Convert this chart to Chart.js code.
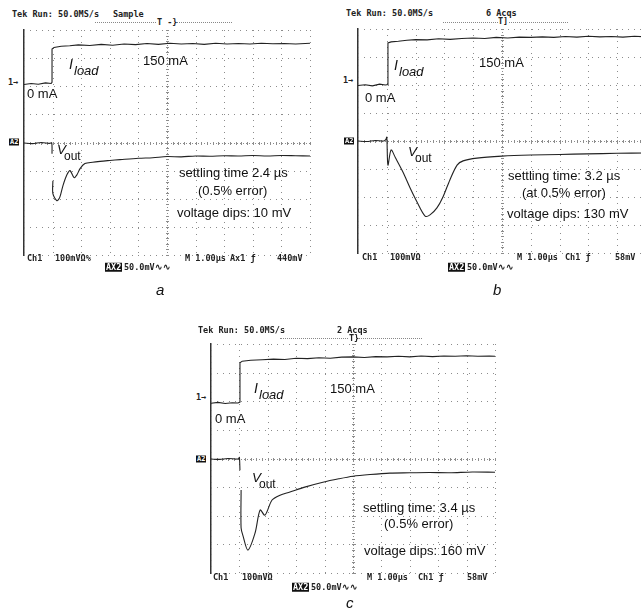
<!DOCTYPE html>
<html>
<head>
<meta charset="utf-8">
<script src="https://cdn.jsdelivr.net/npm/chart.js@4"></script>
<style>
  html, body { margin: 0; padding: 0; background: #fff; }
  body { width: 641px; height: 615px; position: relative; overflow: hidden;
         font-family: "Liberation Sans", Arial, sans-serif; color: #111; }
  .scope { position: absolute; }
  .t { position: absolute; white-space: nowrap; line-height: 1; transform: translateY(-50%); }
  .tek { font-family: "DejaVu Sans Mono", monospace; font-size: 8.5px; font-weight: bold; color: #222; }
  .note { font-size: 13px; }
  .it { font-style: italic; }
  .box { background: #111; color: #fff; padding: 0 1px; }
  .trig { position: absolute; height: 0; border-top: 1px dotted #888; }
  .lbl { font-style: italic; font-size: 15px; }
</style>
</head>
<body>

<!-- panel a -->
<div class="t tek" style="left:12px;top:14px">Tek Run: 50.0MS/s</div>
<div class="t tek" style="left:113px;top:14px">Sample</div>
<div class="trig" style="left:95px;top:22px;width:137px"></div>
<div class="t tek" style="left:157px;top:22px;background:#fff">T -}</div>
<div class="t tek" style="left:8px;top:82px">1→</div>
<div class="t tek box" style="left:9px;top:142px;font-size:7px">A2</div>
<div class="scope" style="left:23px;top:29px;width:288px;height:227px"><canvas id="scopeA"></canvas></div>
<div class="t note" style="left:27px;top:93px">0 mA</div>
<div class="t note" style="left:143px;top:60px">150 mA</div>
<div class="t it" style="left:69px;top:64px;font-size:14px">I</div>
<div class="t it note" style="left:74px;top:70px">load</div>
<div class="t it" style="left:57px;top:150px;font-size:13.5px">V</div>
<div class="t note" style="left:64px;top:156px;font-size:12px">out</div>
<div class="t note" style="left:179px;top:172px">settling time 2.4 µs</div>
<div class="t note" style="left:198px;top:190px">(0.5% error)</div>
<div class="t note" style="left:177px;top:212px">voltage dips: 10 mV</div>
<div class="t tek" style="left:27px;top:258px">Ch1</div>
<div class="t tek" style="left:55px;top:258px">100mVΩ%</div>
<div class="t tek" style="left:185px;top:258px">M 1.00µs</div>
<div class="t tek" style="left:230px;top:258px">Ax1 ƒ</div>
<div class="t tek" style="left:277px;top:258px">440mV</div>
<div class="t tek box" style="left:105px;top:267px">AX2</div>
<div class="t tek" style="left:124px;top:267px">50.0mV∿∿</div>
<div class="t lbl" style="left:156px;top:289px">a</div>

<!-- panel b -->
<div class="t tek" style="left:346px;top:13px">Tek Run: 50.0MS/s</div>
<div class="t tek" style="left:486px;top:13px">6 Acqs</div>
<div class="trig" style="left:443px;top:22px;width:125px"></div>
<div class="t tek" style="left:498px;top:21px;background:#fff">T]</div>
<div class="t tek" style="left:343px;top:80px">1→</div>
<div class="t tek box" style="left:344px;top:141px;font-size:7px">A2</div>
<div class="scope" style="left:357px;top:28px;width:290px;height:226px"><canvas id="scopeB"></canvas></div>
<div class="t note" style="left:365px;top:97px">0 mA</div>
<div class="t note" style="left:479px;top:62px">150 mA</div>
<div class="t it" style="left:394px;top:65px;font-size:14px">I</div>
<div class="t it note" style="left:399px;top:71px">load</div>
<div class="t it" style="left:408px;top:152px;font-size:13.5px">V</div>
<div class="t note" style="left:415px;top:158px;font-size:12px">out</div>
<div class="t note" style="left:508px;top:175px">settling time: 3.2 µs</div>
<div class="t note" style="left:522px;top:192px">(at 0.5% error)</div>
<div class="t note" style="left:507px;top:213px">voltage dips: 130 mV</div>
<div class="t tek" style="left:362px;top:257px">Ch1</div>
<div class="t tek" style="left:390px;top:257px">100mVΩ</div>
<div class="t tek" style="left:517px;top:257px">M 1.00µs</div>
<div class="t tek" style="left:565px;top:257px">Ch1 ƒ</div>
<div class="t tek" style="left:615px;top:257px">58mV</div>
<div class="t tek box" style="left:448px;top:267px">AX2</div>
<div class="t tek" style="left:467px;top:267px">50.0mV∿∿</div>
<div class="t lbl" style="left:493px;top:289px">b</div>

<!-- panel c -->
<div class="t tek" style="left:198px;top:330px">Tek Run: 50.0MS/s</div>
<div class="t tek" style="left:337px;top:330px">2 Acqs</div>
<div class="trig" style="left:280px;top:338px;width:142px"></div>
<div class="t tek" style="left:349px;top:338px;background:#fff">T}</div>
<div class="t tek" style="left:196px;top:397px">1→</div>
<div class="t tek box" style="left:196px;top:459px;font-size:7px">A2</div>
<div class="scope" style="left:210px;top:343px;width:286px;height:231px"><canvas id="scopeC"></canvas></div>
<div class="t note" style="left:215px;top:418px">0 mA</div>
<div class="t note" style="left:330px;top:388px">150 mA</div>
<div class="t it" style="left:254px;top:388px;font-size:14px">I</div>
<div class="t it note" style="left:259px;top:394px">load</div>
<div class="t it" style="left:252px;top:478px;font-size:13.5px">V</div>
<div class="t note" style="left:259px;top:484px;font-size:12px">out</div>
<div class="t note" style="left:363px;top:507px">settling time: 3.4 µs</div>
<div class="t note" style="left:384px;top:523px">(0.5% error)</div>
<div class="t note" style="left:364px;top:550px">voltage dips: 160 mV</div>
<div class="t tek" style="left:213px;top:577px">Ch1</div>
<div class="t tek" style="left:242px;top:577px">100mVΩ</div>
<div class="t tek" style="left:367px;top:577px">M 1.00µs</div>
<div class="t tek" style="left:418px;top:577px">Ch1 ƒ</div>
<div class="t tek" style="left:467px;top:577px">58mV</div>
<div class="t tek box" style="left:292px;top:587px">AX2</div>
<div class="t tek" style="left:311px;top:587px">50.0mV∿∿</div>
<div class="t lbl" style="left:346px;top:602px">c</div>

<script>
// time in µs (1 µs/div, 10 div), trace heights in screen divisions (0..8)
const tA_load = [0, 0.25, 0.5, 0.75, 0.95, 0.98, 0.98, 1.05, 1.3, 1.6, 1.9, 2.3, 2.7, 3.1, 3.5, 3.9, 4.3, 4.7, 5.1, 5.5, 5.9, 6.3, 6.7, 7.1, 7.5, 7.9, 8.3, 8.7, 9.1, 9.5, 10];
const iLoadA  = [6.06, 6.1, 6.07, 6.12, 6.1, 6.14, 7.32, 7.38, 7.42, 7.44, 7.47, 7.45, 7.49, 7.46, 7.5, 7.48, 7.52, 7.49, 7.53, 7.5, 7.52, 7.49, 7.53, 7.5, 7.52, 7.5, 7.53, 7.51, 7.52, 7.5, 7.53];
const tA_out  = [0, 0.3, 0.6, 0.9, 0.97, 0.98, 1.0, 1.01, 1.01, 1.15, 1.25, 1.36, 1.5, 1.61, 1.75, 1.85, 1.96, 2.13, 2.4, 2.66, 3.0, 3.36, 4.0, 4.5, 5.0, 5.5, 6.0, 6.5, 7.0, 7.5, 8.0, 8.5, 9.0, 9.5, 10];
const vOutA   = [3.98, 3.96, 4.0, 3.97, 3.99, 3.6, null, 2.64, 2.18, 1.93, 2.05, 2.46, 2.85, 3.0, 2.75, 2.85, 3.07, 3.25, 3.3, 3.33, 3.36, 3.39, 3.44, 3.46, 3.5, 3.49, 3.52, 3.51, 3.53, 3.52, 3.54, 3.52, 3.54, 3.53, 3.52];

const tB_load = [0, 0.25, 0.5, 0.75, 0.95, 1.04, 1.04, 1.15, 1.4, 1.7, 2.0, 2.4, 2.8, 3.2, 3.6, 4.0, 4.4, 4.8, 5.2, 5.6, 6.0, 6.4, 6.8, 7.2, 7.6, 8.0, 8.4, 8.8, 9.2, 9.6, 10];
const iLoadB  = [5.98, 6.01, 5.97, 6.03, 6.0, 6.02, 7.5, 7.54, 7.56, 7.6, 7.62, 7.61, 7.65, 7.63, 7.66, 7.68, 7.66, 7.7, 7.68, 7.71, 7.7, 7.72, 7.7, 7.73, 7.71, 7.74, 7.72, 7.73, 7.71, 7.74, 7.72];
const tB_out  = [0, 0.3, 0.6, 0.9, 0.97, 1.0, 1.04, 1.15, 1.3, 1.56, 1.81, 2.05, 2.33, 2.5, 2.74, 2.95, 3.19, 3.44, 3.65, 4.13, 5.0, 6.0, 7.0, 7.95, 9.0, 10];
const vOutB   = [4.0, 3.98, 4.02, 4.0, 4.06, 4.14, 3.14, 3.68, 3.4, 2.89, 2.32, 1.82, 1.32, 1.36, 1.61, 2.0, 2.61, 3.14, 3.29, 3.39, 3.46, 3.5, 3.52, 3.54, 3.56, 3.57];

const tC_load = [0, 0.25, 0.5, 0.75, 0.95, 1.02, 1.02, 1.1, 1.4, 1.8, 2.2, 2.6, 3.0, 3.4, 3.8, 4.2, 4.6, 5.0, 5.4, 5.8, 6.2, 6.6, 7.0, 7.4, 7.8, 8.2, 8.6, 9.0, 9.4, 9.8, 10];
const iLoadC  = [5.93, 5.96, 5.92, 5.95, 5.94, 5.97, 7.34, 7.4, 7.43, 7.45, 7.47, 7.46, 7.5, 7.49, 7.52, 7.5, 7.54, 7.55, 7.53, 7.56, 7.55, 7.57, 7.55, 7.58, 7.56, 7.58, 7.57, 7.59, 7.57, 7.58, 7.57];
const tC_out  = [0, 0.3, 0.6, 0.9, 0.97, 1.0, 1.02, 1.04, 1.06, 1.06, 1.13, 1.3, 1.55, 1.73, 1.9, 2.15, 2.43, 2.78, 3.3, 3.94, 4.5, 5.0, 5.6, 6.3, 7.0, 7.7, 8.4, 9.2, 10];
const vOutC   = [3.98, 3.97, 4.0, 3.98, 3.99, 4.04, 3.59, null, 2.9, 1.57, 1.29, 0.8, 1.39, 2.2, 2.02, 2.55, 2.72, 2.83, 3.0, 3.17, 3.29, 3.38, 3.44, 3.49, 3.5, 3.51, 3.5, 3.53, 3.52];

// dotted scope graticule drawn on the scale ticks, denser on the centre cross
const graticule = {
  id: 'graticule',
  beforeDatasetsDraw(chart) {
    const { ctx, chartArea: a, scales: { x, y } } = chart;
    const cx = Math.round(x.getPixelForValue(5)) + 0.5;
    const cy = Math.round(y.getPixelForValue(4)) + 0.5;
    ctx.save();
    ctx.strokeStyle = '#8c8c8c';
    ctx.lineWidth = 1;
    ctx.setLineDash([1, 5]);
    ctx.beginPath();
    x.ticks.forEach(t => {
      if (t.value === 5) return;
      const px = Math.round(x.getPixelForValue(t.value)) + 0.5;
      ctx.moveTo(px, a.top); ctx.lineTo(px, a.bottom);
    });
    y.ticks.forEach(t => {
      if (t.value === 4) return;
      const py = Math.round(y.getPixelForValue(t.value)) + 0.5;
      ctx.moveTo(a.left, py); ctx.lineTo(a.right, py);
    });
    ctx.stroke();
    ctx.setLineDash([1, 2]);
    ctx.beginPath();
    ctx.moveTo(cx, a.top); ctx.lineTo(cx, a.bottom);
    ctx.moveTo(a.left, cy); ctx.lineTo(a.right, cy);
    ctx.stroke();
    ctx.setLineDash([]);
    ctx.beginPath();
    for (let i = 0; i <= 50; i++) {
      const px = Math.round(x.getPixelForValue(i / 5)) + 0.5;
      ctx.moveTo(px, cy - 1.5); ctx.lineTo(px, cy + 1.5);
    }
    for (let i = 0; i <= 40; i++) {
      const py = Math.round(y.getPixelForValue(i / 5)) + 0.5;
      ctx.moveTo(cx - 1.5, py); ctx.lineTo(cx + 1.5, py);
    }
    ctx.stroke();
    ctx.restore();
  }
};

function scope(id, tLoad, iLoad, tOut, vOut) {
  const pts = (xs, ys) => xs.map((x, i) => ({ x, y: ys[i] }));
  new Chart(document.getElementById(id), {
    type: 'line',
    data: {
      datasets: [
        { data: pts(tLoad, iLoad), tension: 0 },
        { data: pts(tOut, vOut), tension: 0.3 }
      ]
    },
    options: {
      responsive: true,
      maintainAspectRatio: false,
      animation: false,
      layout: { padding: 1 },
      plugins: { legend: { display: false }, tooltip: { enabled: false } },
      elements: {
        point: { radius: 0 },
        line: { borderColor: '#222', borderWidth: 1.1 }
      },
      scales: {
        x: {
          type: 'linear', min: 0, max: 10,
          ticks: { display: false, stepSize: 1 },
          grid: { display: false, drawTicks: false },
          border: { display: false }
        },
        y: {
          min: 0, max: 8,
          ticks: { display: false, stepSize: 1 },
          grid: { display: false, drawTicks: false },
          border: { display: true, color: '#333', width: 1.5 }
        }
      }
    },
    plugins: [graticule]
  });
}

scope('scopeA', tA_load, iLoadA, tA_out, vOutA);
scope('scopeB', tB_load, iLoadB, tB_out, vOutB);
scope('scopeC', tC_load, iLoadC, tC_out, vOutC);
</script>
</body>
</html>
